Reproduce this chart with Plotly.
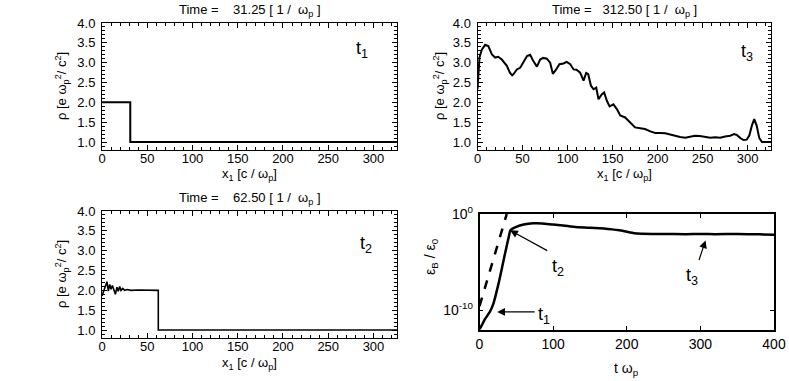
import plotly.graph_objects as go

# ---------------- data ----------------
# Panel t1 (Time = 31.25)
x_t1 = [0, 31.25, 31.25, 326]
rho_t1 = [2.0, 2.0, 1.0, 1.0]

# Panel t2 (Time = 62.50)
x_t2 = [0, 1.5, 3, 4.5, 5.5, 7, 8.5, 10, 11.5, 13, 14.8, 16.5, 18, 19.5, 21, 23, 25, 28, 32, 40, 50, 62.2, 62.2, 326]
rho_t2 = [1.86, 1.95, 2.05, 2.12, 2.22, 1.98, 2.15, 2.03, 2.12, 2.02, 1.9, 2.08, 1.98, 2.1, 2.0, 2.05, 2.0, 2.02, 2.0, 2.01, 2.0, 2.0, 1.0, 1.0]

# Panel t3 (Time = 312.50)
x_t3 = [0, 2.2, 4.8, 8.5, 12, 16, 19.6, 23, 27, 32.6, 36, 38.5, 40, 43.7, 47.4, 51, 55, 58.5, 62, 66,
        69.6, 73, 77, 80.7, 83.7, 87.4, 91, 95.5, 99, 103, 106.7, 110, 114, 117.8, 120.7, 123, 126,
        128.9, 131.9, 134.4, 138, 140.7, 143.7, 146.7, 151, 154.8, 158.5, 164, 169.6, 175, 180.7, 186,
        192, 197.4, 203, 208.5, 214, 219.6, 225, 230.7, 236, 241.5, 247, 253, 258.5, 264, 269.6, 275,
        280.7, 285, 288, 292, 295.6, 299, 302, 304.8, 307.4, 310, 313, 316, 326]
rho_t3 = [2.33, 3.13, 3.33, 3.45, 3.42, 3.21, 3.13, 3.15, 3.08, 2.92, 2.75, 2.68, 2.71, 2.83, 2.87, 3.0, 3.17, 3.2, 3.04, 2.9,
          3.08, 3.12, 3.1, 3.0, 2.72, 2.83, 2.96, 2.98, 3.02, 2.96, 2.83, 2.82, 2.75, 2.55, 2.74, 2.71, 2.42,
          2.33, 2.37, 2.08, 2.2, 2.25, 2.04, 1.9, 1.95, 1.83, 1.67, 1.62, 1.5, 1.37, 1.35, 1.33,
          1.27, 1.23, 1.23, 1.22, 1.19, 1.15, 1.13, 1.11, 1.14, 1.16, 1.15, 1.13, 1.11, 1.12, 1.11, 1.14,
          1.16, 1.2, 1.18, 1.1, 1.05, 1.06, 1.17, 1.42, 1.58, 1.42, 1.1, 1.0, 1.0]

# Field energy growth
t_sim = [0, 3, 7, 14, 19, 26, 30, 35, 40, 42, 50, 60, 73, 85, 100, 120, 130, 150, 163, 180, 190, 200,
         210, 220, 250, 280, 300, 320, 350, 380, 400]
eps_sim = [1e-12, 2.5e-12, 1e-11, 6.3e-11, 5e-10, 6.3e-8, 1.6e-6, 1e-4, 5e-3, 2e-2, 4.5e-2, 7.9e-2, 0.107, 0.105,
           7.9e-2, 5.6e-2, 4.5e-2, 3.8e-2, 3.2e-2, 2.5e-2, 2e-2, 1.4e-2, 1e-2, 8.9e-3, 8.3e-3, 7.9e-3, 8.3e-3,
           7.9e-3, 8.3e-3, 7.6e-3, 7.1e-3]
t_theory = [0, 37]
eps_theory = [2.5e-10, 1.0]

x_ticks_rho = [0, 50, 100, 150, 200, 250, 300]
y_ticks_rho = [1.0, 1.5, 2.0, 2.5, 3.0, 3.5, 4.0]
t_ticks = [0, 100, 200, 300, 400]
eps_tickvals = [1e-10, 1.0]
eps_ticktext = ["10<sup>-10</sup>", "10<sup>0</sup>"]

W, H = 789, 381
FONT = "Liberation Sans, Arial, Helvetica, sans-serif"


def px(x):
    return x / W


def py(y):
    return 1 - y / H


fig = go.Figure()
line_style = dict(color="black", width=2)
fig.add_trace(go.Scatter(x=x_t1, y=rho_t1, mode="lines", line=line_style, xaxis="x", yaxis="y"))
fig.add_trace(go.Scatter(x=x_t3, y=rho_t3, mode="lines", line=line_style, xaxis="x2", yaxis="y2"))
fig.add_trace(go.Scatter(x=x_t2, y=rho_t2, mode="lines", line=dict(color="black", width=1.6), xaxis="x3", yaxis="y3"))
fig.add_trace(go.Scatter(x=t_sim, y=eps_sim, mode="lines", line=dict(color="black", width=2.5, shape="spline", smoothing=0.6),
                         xaxis="x4", yaxis="y4"))
fig.add_trace(go.Scatter(x=t_theory, y=eps_theory, mode="lines", line=dict(color="black", width=2.5, dash="dash"),
                         xaxis="x4", yaxis="y4"))

panels = {
    "TL": dict(x=(102, 397), y=(23, 150)),
    "TR": dict(x=(477.5, 771), y=(23, 150)),
    "BL": dict(x=(102, 397), y=(211, 338)),
    "BR": dict(x=(479.5, 774), y=(214, 330)),
}

tickfont = dict(family=FONT, size=13, color="black")


def rho_xaxis(p, anchor):
    return dict(domain=[px(p["x"][0]), px(p["x"][1])], anchor=anchor, range=[0, 326],
                tickvals=x_ticks_rho, ticks="inside", ticklen=5, tickcolor="black", tickwidth=1,
                minor=dict(dtick=10, ticks="inside", ticklen=3, tickcolor="black", tickwidth=1, showgrid=False),
                showline=True, linecolor="black", linewidth=1, mirror="ticks", showgrid=False,
                zeroline=False, tickfont=tickfont, ticklabelstandoff=-4)


def rho_yaxis(p, anchor):
    return dict(domain=[py(p["y"][1]), py(p["y"][0])], anchor=anchor, range=[0.8, 4.0],
                tickvals=y_ticks_rho, tickformat=".1f", ticks="inside", ticklen=5, tickcolor="black", tickwidth=1,
                minor=dict(dtick=0.1, ticks="inside", ticklen=3, tickcolor="black", tickwidth=1, showgrid=False),
                showline=True, linecolor="black", linewidth=1, mirror="ticks", showgrid=False,
                zeroline=False, tickfont=tickfont, ticklabelstandoff=3)


fig.update_layout(
    width=W, height=H, margin=dict(l=0, r=0, t=0, b=0, autoexpand=False),
    paper_bgcolor="white", plot_bgcolor="white", showlegend=False,
    font=dict(family=FONT, size=13, color="black"),
    xaxis=rho_xaxis(panels["TL"], "y"), yaxis=rho_yaxis(panels["TL"], "x"),
    xaxis2=rho_xaxis(panels["TR"], "y2"), yaxis2=rho_yaxis(panels["TR"], "x2"),
    xaxis3=rho_xaxis(panels["BL"], "y3"), yaxis3=rho_yaxis(panels["BL"], "x3"),
    xaxis4=dict(domain=[px(panels["BR"]["x"][0]), px(panels["BR"]["x"][1])], anchor="y4", range=[0, 400],
                tickvals=t_ticks, ticks="inside", ticklen=4, tickcolor="black", tickwidth=1,
                showline=True, linecolor="black", linewidth=1.5, mirror="ticks", showgrid=False,
                zeroline=False, tickfont=dict(family=FONT, size=14, color="black"), ticklabelstandoff=0),
    yaxis4=dict(domain=[py(panels["BR"]["y"][1]), py(panels["BR"]["y"][0])], anchor="x4", type="log",
                range=[-12.08, 0], tickvals=eps_tickvals, ticktext=eps_ticktext, ticks="inside", ticklen=4,
                tickcolor="black", tickwidth=1, showline=True, linecolor="black", linewidth=1.5, mirror="ticks",
                showgrid=False, zeroline=False, tickfont=dict(family=FONT, size=14, color="black"),
                ticklabelstandoff=2),
)

ann = []


def text(x, y, s, size=13, angle=0, xanchor="center"):
    ann.append(dict(x=px(x), y=py(y), xref="paper", yref="paper", text=s, showarrow=False,
                    font=dict(family=FONT, size=size, color="black"), textangle=angle,
                    xanchor=xanchor, yanchor="middle"))


# Titles
text(249.5, 10, "Time =\u00a0\u00a0\u00a0\u00a031.25 [ 1 /\u00a0 ω<sub>p</sub> ]")
text(624, 10, "Time =\u00a0\u00a0 312.50 [ 1 /\u00a0 ω<sub>p</sub> ]")
text(249.5, 198, "Time =\u00a0\u00a0\u00a0\u00a062.50 [ 1 /\u00a0 ω<sub>p</sub> ]")
# x titles
xt = "x<sub>1</sub> [c / ω<sub>p</sub>]"
text(249.5, 175, xt)
text(624, 175, xt)
text(249.5, 363, xt)
# y titles
yt = "ρ [e ω<sub>p</sub><sup>2</sup>/ c<sup>2</sup>]"
text(62, 86, yt, angle=-90)
text(440, 86, yt, angle=-90)
text(62, 274, yt, angle=-90)
text(431, 257, "ε<sub>B</sub> / ε<sub>0</sub>", size=14, angle=-90)
text(626, 369, "t ω<sub>p</sub>", size=14)
# panel labels
text(362, 49, "t<sub>1</sub>", size=18)
text(747, 52, "t<sub>3</sub>", size=18)
text(366, 244, "t<sub>2</sub>", size=18)

# arrows in energy panel (data coords, log10 for y)
for (hx, hy, tx, ty) in [(24, -10.2, 77, -10.2), (41.5, -1.7, 94, -3.9), (307, -2.75, 297.5, -4.95)]:
    ann.append(dict(x=hx, y=hy, ax=tx, ay=ty, xref="x4", yref="y4", axref="x4", ayref="y4", text="",
                    showarrow=True, arrowhead=2, arrowsize=1.3, arrowwidth=1.2, arrowcolor="black"))
for (tx, ty, s) in [(88, -10.55, "t<sub>1</sub>"), (107, -5.6, "t<sub>2</sub>"), (289, -6.5, "t<sub>3</sub>")]:
    ann.append(dict(x=tx, y=ty, xref="x4", yref="y4", text=s, showarrow=False,
                    font=dict(family=FONT, size=18, color="black"), xanchor="center", yanchor="middle"))

fig.update_layout(annotations=ann)
fig.write_html("out.html", config={"displayModeBar": False},
               post_script="document.body.style.margin='0';document.body.style.overflow='hidden';"
                           "document.documentElement.style.overflow='hidden';")
